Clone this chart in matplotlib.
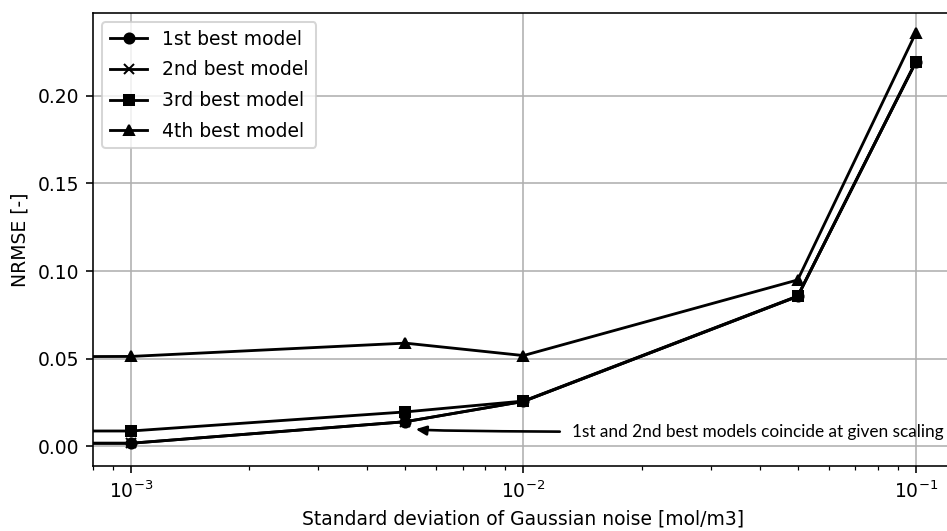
import numpy as np
import matplotlib
matplotlib.use("Agg")
import matplotlib.pyplot as plt

# noise levels (first point lies left of the visible range)
sigma = [5e-4, 1e-3, 5e-3, 1e-2, 5e-2, 1e-1]

best1 = [0.0016, 0.0016, 0.0139, 0.0255, 0.0855, 0.2193]
best2 = [0.0016, 0.0016, 0.0139, 0.0255, 0.0855, 0.2193]
best3 = [0.0086, 0.0086, 0.0195, 0.0257, 0.0857, 0.2196]
best4 = [0.0510, 0.0512, 0.0588, 0.0517, 0.0949, 0.2360]

labels = ["1st best model", "2nd best model", "3rd best model", "4th best model"]
markers = ["o", "x", "s", "^"]

plt.rcParams["font.size"] = 9.3

fig = plt.figure(figsize=(947/145, 531/145), dpi=145)
ax = fig.add_axes([0.0982, 0.1224, 0.909, 0.8531])

for y, lab, m in zip([best1, best2, best3, best4], labels, markers):
    ax.plot(sigma, y, color="black", marker=m, markersize=5, linewidth=1.4, label=lab)

ax.set_xscale("log")
ax.set_xlim(8e-4, 0.125)
ax.set_ylim(-0.0114, 0.2474)
ax.grid(True, which="major", color="#b0b0b0", linewidth=0.8)
ax.set_xlabel("Standard deviation of Gaussian noise [mol/m3]")
ax.set_ylabel("NRMSE [-]")
ax.legend(loc="upper left", labelspacing=0.62)

ax.annotate("1st and 2nd best models coincide at given scaling",
            xy=(5.25e-3, 0.0099), xytext=(0.01329, 0.0080),
            ha="left", va="center", fontsize=8.6, family="Lato",
            arrowprops=dict(arrowstyle="-|>,head_length=0.5,head_width=0.22",
                            color="black", lw=1.3, shrinkA=4, shrinkB=1,
                            connectionstyle="angle3,angleA=0,angleB=-70"))

fig.savefig("out.png", dpi=145)
